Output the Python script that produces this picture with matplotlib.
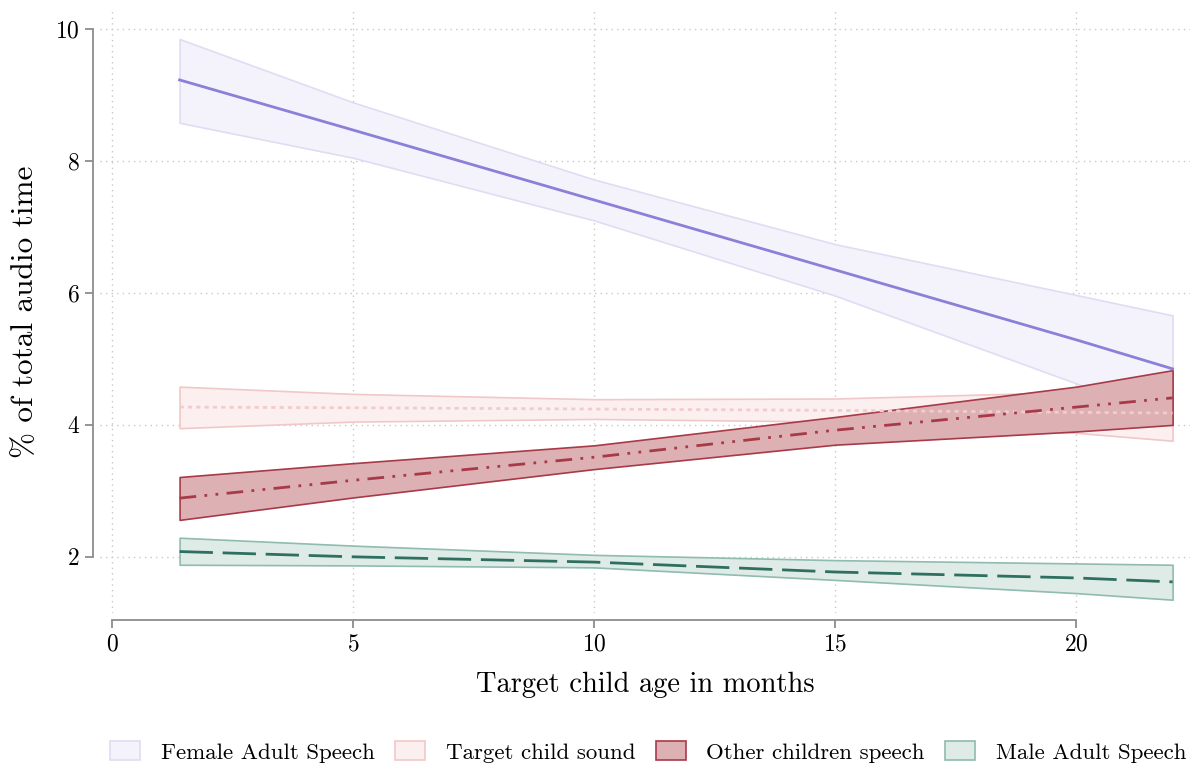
import matplotlib
matplotlib.use("Agg")
import matplotlib.pyplot as plt
from matplotlib.patches import Patch

plt.rcParams['font.family'] = ['cmr10', 'DejaVu Serif']
plt.rcParams['axes.formatter.use_mathtext'] = True

# age in months where the fitted lines / CIs were read
age = [1.4, 5, 10, 15, 20, 22]

female_fit = [9.23, 8.47, 7.41, 6.35, 5.29, 4.85]
female_hi = [9.85, 8.89, 7.72, 6.74, 5.97, 5.66]
female_lo = [8.58, 8.05, 7.10, 5.96, 4.63, 4.05]

target_fit = [4.27, 4.26, 4.24, 4.22, 4.19, 4.18]
target_hi = [4.58, 4.47, 4.39, 4.40, 4.50, 4.57]
target_lo = [3.95, 4.05, 4.09, 4.05, 3.88, 3.76]

other_fit = [2.89, 3.16, 3.51, 3.92, 4.27, 4.41]
other_hi = [3.21, 3.42, 3.69, 4.12, 4.58, 4.83]
other_lo = [2.56, 2.90, 3.33, 3.70, 3.90, 4.00]

male_fit = [2.08, 2.00, 1.92, 1.77, 1.68, 1.62]
male_hi = [2.29, 2.17, 2.03, 1.95, 1.90, 1.88]
male_lo = [1.88, 1.87, 1.84, 1.65, 1.45, 1.35]

labels = ['Female Adult Speech', 'Target child sound',
          'Other children speech', 'Male Adult Speech']

fig = plt.figure(figsize=(11.94, 7.69), dpi=100)
ax = fig.add_axes([0.0838, 0.203, 0.9128, 0.784])

series = [
    (female_lo, female_hi, female_fit, '#f4f3fc', '#e0dcf3', '#8a80d8', '-'),
    (target_lo, target_hi, target_fit, '#fcefef', '#f1c8c8', '#f2cccc', (0, (1.5, 1.5))),
    (other_lo, other_hi, other_fit, '#ddb0b4', '#a83a48', '#a83a48',
     (0, (6, 3, 1, 3, 1, 3))),
    (male_lo, male_hi, male_fit, '#dfebe7', '#8fbcaf', '#2f6f60', (0, (12, 3.5))),
]

handles = []
for lo, hi, fit, fc, ec, lc, ls in series:
    ax.fill_between(age, lo, hi, facecolor=fc, edgecolor=ec, linewidth=1.2,
                    zorder=2)
    handles.append(Patch(facecolor=fc, edgecolor=ec, linewidth=1.2))
for lo, hi, fit, fc, ec, lc, ls in series:
    ax.plot(age, fit, color=lc, linestyle=ls, linewidth=2, zorder=3)

ax.set_xlim(-0.25, 22.36)
ax.set_ylim(1.15, 10.29)
ax.set_xticks([0, 5, 10, 15, 20])
ax.set_yticks([2, 4, 6, 8, 10])
ax.grid(True, linestyle=(0, (1, 3)), color='#c8c8c8', linewidth=1)
ax.set_axisbelow(True)

for side in ['top', 'right']:
    ax.spines[side].set_visible(False)
ax.spines['left'].set_position(('outward', 5))
ax.spines['bottom'].set_position(('outward', 5))
ax.spines['left'].set_bounds(2, 10)
ax.spines['bottom'].set_bounds(0, 20)
for side in ['left', 'bottom']:
    ax.spines[side].set_color('#8c8c8c')
    ax.spines[side].set_linewidth(1.3)
ax.tick_params(colors='#8c8c8c', length=6, width=1.3, labelsize=17,
               labelcolor='black')

ax.set_xlabel('Target child age in months', fontsize=20.5, labelpad=12)
ax.set_ylabel('% of total audio time', fontsize=22.5, labelpad=12)

fig.legend(handles, labels, loc='center', bbox_to_anchor=(0.543, 0.022),
           ncol=4, frameon=False, fontsize=16.5, handlelength=1.3,
           handleheight=0.9, columnspacing=0.9, handletextpad=0.9)

fig.savefig('out.png', dpi=100)
